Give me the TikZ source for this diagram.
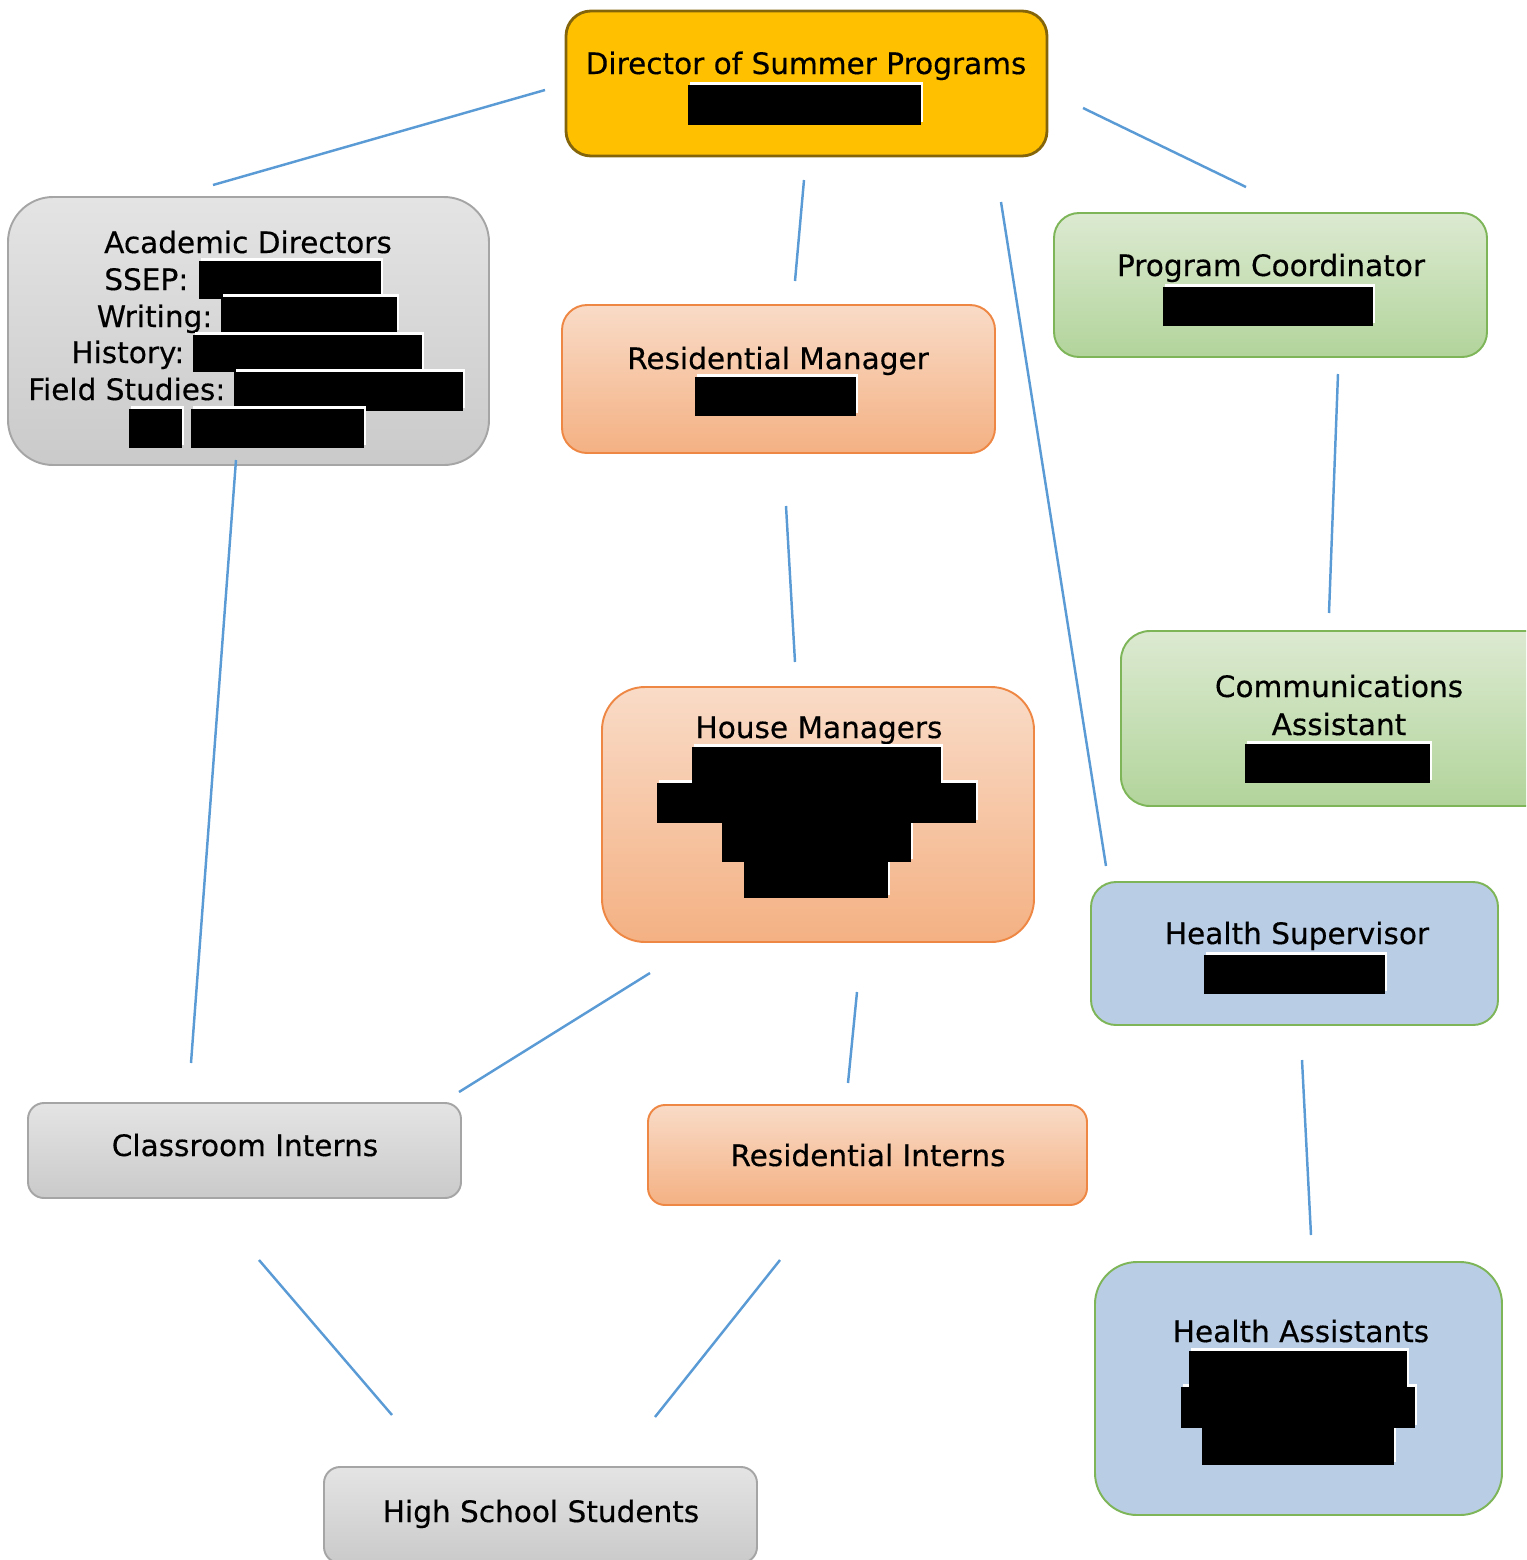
\documentclass[tikz,border=0pt]{standalone}
\usepackage{fontspec}
\setmainfont[FakeBold=0.4]{DejaVu Sans}
\usepackage{tikz}
\usetikzlibrary{fit, shadows}

\definecolor{dirgold}{HTML}{FFC000}
\definecolor{dirline}{HTML}{85650A}
\definecolor{greytop}{HTML}{E4E4E4}
\definecolor{greybot}{HTML}{CACACA}
\definecolor{greyline}{HTML}{A5A5A5}
\definecolor{orangetop}{HTML}{F9DBC7}
\definecolor{orangebot}{HTML}{F4B183}
\definecolor{orangeline}{HTML}{EE8744}
\definecolor{greentop}{HTML}{DCEAD1}
\definecolor{greenbot}{HTML}{B2D49B}
\definecolor{greenline}{HTML}{7DB558}
\definecolor{bluefill}{HTML}{B9CDE5}
\definecolor{linkblue}{HTML}{5B9BD5}

\newcommand{\boxfont}{\fontsize{8.4}{10}\selectfont}

\begin{document}
\begin{tikzpicture}[
    x=0.01cm, y=-0.01cm,
    box/.style={rectangle, inner sep=0pt, line width=0.55pt},
    goldbox/.style={box, fill=dirgold, draw=dirline, line width=0.8pt},
    greybox/.style={box, top color=greytop, bottom color=greybot, draw=greyline},
    orangebox/.style={box, top color=orangetop, bottom color=orangebot, draw=orangeline},
    greenbox/.style={box, top color=greentop, bottom color=greenbot, draw=greenline},
    bluebox/.style={box, fill=bluefill, draw=greenline},
    title/.style={font=\boxfont, anchor=base, inner sep=0pt},
    label/.style={title, anchor=base east},
    redact/.style={rectangle, inner sep=0pt, fill=black,
        drop shadow={shadow xshift=0.6pt, shadow yshift=0.8pt, fill=white, opacity=1}},
    link/.style={draw=linkblue, line width=0.7pt}
]
    \useasboundingbox (0,0) rectangle (1526,1560);
    \clip (0,0) rectangle (1526,1560);

    % Director
    \node[goldbox, rounded corners=0.25cm, fit={(566,11) (1047,156)}] (director) {};
    \node[title] (dirtitle) at (806,74) {Director of Summer Programs};
    \node[redact, fit={(688,85) (921,125)}] (dirname) {};

    % Academic directors
    \node[greybox, rounded corners=0.45cm, fit={(8,197) (489,465)}] (academic) {};
    \node[title] (actitle) at (248,253) {Academic Directors};
    \node[label] (ssep) at (189,290) {SSEP:};
    \node[label] (writing) at (213,327) {Writing:};
    \node[label] (history) at (185,363) {History:};
    \node[label] (field) at (226,400) {Field Studies:};
    \node[redact, fit={(199,261) (381,299)}] (ssepname) {};
    \node[redact, fit={(221,297) (397,333)}] (writingname) {};
    \node[redact, fit={(193,335) (422,372)}] (historyname) {};
    \node[redact, fit={(234,372) (463,411)}] (fieldname) {};
    \node[redact, fit={(129,409) (182,448)}] (fieldnameb) {};
    \node[redact, fit={(191,409) (364,448)}] (fieldnamec) {};

    % Residential manager
    \node[orangebox, rounded corners=0.25cm, fit={(562,305) (995,453)}] (resmanager) {};
    \node[title] (rmtitle) at (778,369) {Residential Manager};
    \node[redact, fit={(695,377) (856,416)}] (rmname) {};

    % Program coordinator
    \node[greenbox, rounded corners=0.25cm, fit={(1054,213) (1487,357)}] (progcoord) {};
    \node[title] (pctitle) at (1271,276) {Program Coordinator};
    \node[redact, fit={(1163,287) (1373,326)}] (pcname) {};

    % Communications assistant
    \node[greenbox, rounded corners=0.29cm, fit={(1121,631) (1558,806)}] (commassist) {};
    \node[title] (catitle) at (1339,697) {Communications};
    \node[title] (catitleb) at (1339,735) {Assistant};
    \node[redact, fit={(1245,744) (1430,783)}] (caname) {};

    % House managers (bottom row first)
    \node[orangebox, rounded corners=0.43cm, fit={(602,687) (1034,942)}] (housemgr) {};
    \node[title] (hmtitle) at (819,738) {House Managers};
    \node[redact, fit={(744,861) (888,898)}] (hmnamed) {};
    \node[redact, fit={(722,822) (911,862)}] (hmnamec) {};
    \node[redact, fit={(657,783) (976,823)}] (hmnameb) {};
    \node[redact, fit={(692,747) (941,784)}] (hmname) {};

    % Health supervisor
    \node[bluebox, rounded corners=0.25cm, fit={(1091,882) (1498,1025)}] (healthsup) {};
    \node[title] (hstitle) at (1297,944) {Health Supervisor};
    \node[redact, fit={(1204,955) (1385,994)}] (hsname) {};

    % Interns
    \node[greybox, rounded corners=0.16cm, fit={(28,1103) (461,1198)}] (classintern) {};
    \node[title] (cititle) at (245,1156) {Classroom Interns};
    \node[orangebox, rounded corners=0.17cm, fit={(648,1105) (1087,1205)}] (resintern) {};
    \node[title] (rititle) at (868,1166) {Residential Interns};

    % Health assistants (bottom row first)
    \node[bluebox, rounded corners=0.42cm, fit={(1095,1262) (1502,1515)}] (healthassist) {};
    \node[title] (hatitle) at (1301,1342) {Health Assistants};
    \node[redact, fit={(1202,1427) (1394,1465)}] (hanamec) {};
    \node[redact, fit={(1181,1387) (1415,1428)}] (hanameb) {};
    \node[redact, fit={(1189,1351) (1407,1388)}] (haname) {};

    % Students
    \node[greybox, rounded corners=0.16cm, fit={(324,1467) (757,1563)}] (students) {};
    \node[title] (sttitle) at (541,1522) {High School Students};

    % Connector ends
    \coordinate (dir-a) at (545,90);    \coordinate (ac-a) at (213,185);
    \coordinate (dir-b) at (804,180);   \coordinate (rm-a) at (795,281);
    \coordinate (dir-c) at (1083,108);  \coordinate (pc-a) at (1246,187);
    \coordinate (dir-d) at (1001,202);  \coordinate (hs-a) at (1106,866);
    \coordinate (pc-b) at (1338,374);   \coordinate (ca-a) at (1329,613);
    \coordinate (rm-b) at (786,506);    \coordinate (hm-a) at (795,662);
    \coordinate (ac-b) at (236,460);    \coordinate (ci-a) at (191,1063);
    \coordinate (hm-b) at (650,973);    \coordinate (ci-b) at (459,1092);
    \coordinate (hm-c) at (857,992);    \coordinate (ri-a) at (848,1083);
    \coordinate (hs-b) at (1302,1060);  \coordinate (ha-a) at (1311,1235);
    \coordinate (ci-c) at (259,1260);   \coordinate (st-a) at (392,1415);
    \coordinate (ri-b) at (780,1260);   \coordinate (st-b) at (655,1417);

    % Connectors
    \draw[link] (dir-a) -- (ac-a);
    \draw[link] (dir-b) -- (rm-a);
    \draw[link] (dir-c) -- (pc-a);
    \draw[link] (dir-d) -- (hs-a);
    \draw[link] (pc-b) -- (ca-a);
    \draw[link] (rm-b) -- (hm-a);
    \draw[link] (ac-b) -- (ci-a);
    \draw[link] (hm-b) -- (ci-b);
    \draw[link] (hm-c) -- (ri-a);
    \draw[link] (hs-b) -- (ha-a);
    \draw[link] (ci-c) -- (st-a);
    \draw[link] (ri-b) -- (st-b);
\end{tikzpicture}
\end{document}
